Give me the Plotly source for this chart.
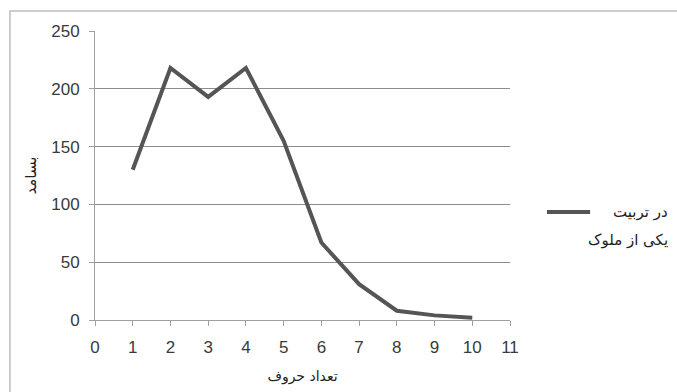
import plotly.graph_objects as go

# letter counts and their frequencies
letter_counts = [1, 2, 3, 4, 5, 6, 7, 8, 9, 10]
frequency = [130, 218, 193, 218, 155, 67, 31, 8, 4, 2]
series_lines = ["در تربیت", "یکی از ملوک"]
x_title = "تعداد حروف"
y_title = "بسامد"

LINE_COLOR = "#555555"
PERSIAN_FONT = "DejaVu Sans"

fig = go.Figure()
fig.add_trace(go.Scatter(
    x=letter_counts, y=frequency, mode="lines", name=" ".join(series_lines),
    line=dict(color=LINE_COLOR, width=4),
    showlegend=False,
))

axis_common = dict(
    showline=True, linecolor="#a0a0a0", linewidth=1,
    ticks="outside", ticklen=5, tickcolor="#a0a0a0",
    tickfont=dict(family="Liberation Sans", size=17, color="#3a3a3a"),
    zeroline=False,
)

fig.update_xaxes(
    range=[0, 11], dtick=1, tick0=0, showgrid=False,
    ticklabelstandoff=7,
    title=dict(text=x_title, font=dict(family=PERSIAN_FONT, size=14, color="#222222"), standoff=14),
    **axis_common,
)
fig.update_yaxes(
    range=[0, 250], dtick=50, showgrid=True, gridcolor="#8c8c8c", gridwidth=1,
    ticklabelstandoff=6,
    title=dict(text=y_title, font=dict(family=PERSIAN_FONT, size=15, color="#222222"), standoff=10),
    **axis_common,
)

# outer chart frame
fig.add_shape(type="rect", xref="paper", yref="paper",
              x0=-0.205, x1=1.45, y0=-0.3, y1=1.069,
              line=dict(color="#bdbdbd", width=1.5), fillcolor="rgba(0,0,0,0)", layer="below")

# legend key: line sample and right-aligned two-line series name
fig.add_shape(type="line", xref="paper", yref="paper",
              x0=1.089, x1=1.193, y0=0.374, y1=0.374,
              line=dict(color=LINE_COLOR, width=4))
for i, line_text in enumerate(series_lines):
    fig.add_annotation(xref="paper", yref="paper", x=1.385, y=0.374 - i * 0.097,
                       text=line_text, showarrow=False, xanchor="right", yanchor="middle",
                       font=dict(family=PERSIAN_FONT, size=15, color="#222222"))

fig.update_layout(
    width=677, height=392,
    margin=dict(l=95, r=167, t=31, b=72),
    paper_bgcolor="white", plot_bgcolor="white",
)

fig.write_html("out.html")
